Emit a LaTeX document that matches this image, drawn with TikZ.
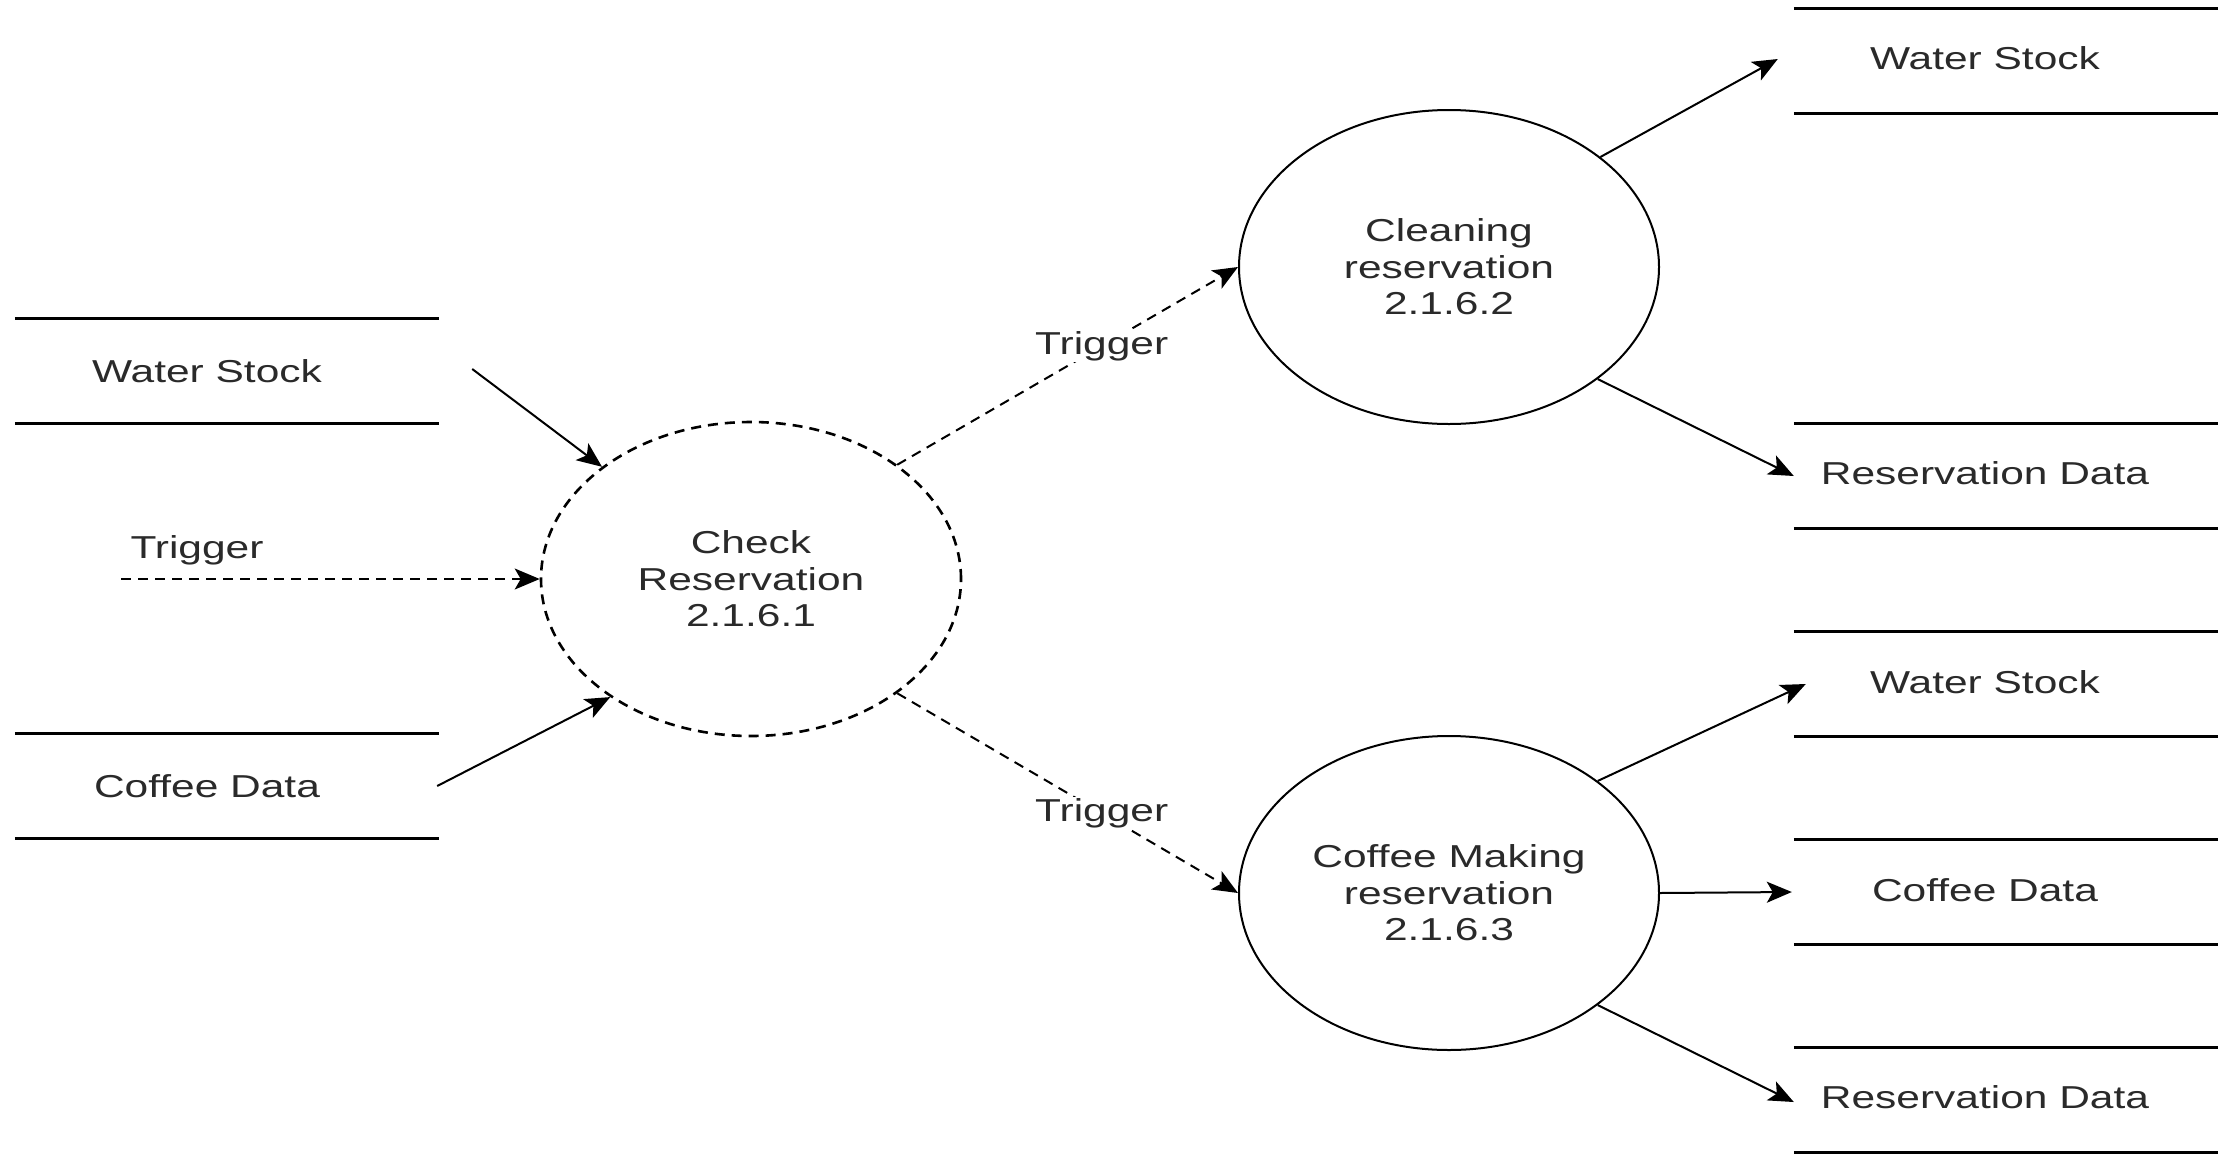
\documentclass[tikz,border=0pt]{standalone}
\usepackage{fontspec}
\usetikzlibrary{shapes.geometric,arrows.meta}
\newfontfamily\lblfont[FakeStretch=1.34]{Liberation Sans}
\definecolor{txt}{HTML}{2A2A2A}
\begin{document}
\begin{tikzpicture}[x=1pt,y=-1pt,
  lbl/.style={font=\lblfont\fontsize{31.7}{36.5}\selectfont, text=txt, inner sep=1pt},
  store/.style={rectangle, minimum width=424pt, minimum height=104pt, inner sep=0pt, draw=none,
    append after command={(\tikzlastnode.north west) edge[storeline] (\tikzlastnode.north east)
                          (\tikzlastnode.south west) edge[storeline] (\tikzlastnode.south east)}},
  storeline/.style={line width=3pt, -},
  proc/.style={ellipse, draw, line width=2pt, minimum width=420pt, minimum height=314pt, inner sep=0pt,
    font=\lblfont\fontsize{31.7}{36.5}\selectfont, align=center, text=txt},
  flow/.style={line width=2pt, -{Stealth[length=25pt,width=21pt,inset=6pt]}},
  dflow/.style={flow, dash pattern=on 10pt off 7pt},
  tlabel/.style={lbl, fill=white}
]
\useasboundingbox (0,0) rectangle (2236,1157);

% processes
\node[proc, dash pattern=on 10pt off 7pt, line width=2.6pt] (check) at (751,579) {Check\\Reservation\\2.1.6.1};
\node[proc] (clean) at (1449,267) {Cleaning\\reservation\\2.1.6.2};
\node[proc] (coffee) at (1449,893) {Coffee Making\\reservation\\2.1.6.3};

% left stores
\node[store] (wsL) at (227,371) {};
\node[lbl] (wsLt) at ([xshift=-20pt]wsL.center) {Water Stock};
\node[store] (cdL) at (227,786) {};
\node[lbl] (cdLt) at ([xshift=-20pt]cdL.center) {Coffee Data};

% right stores
\node[store] (ws1) at (2006,61) {};
\node[lbl] (ws1t) at ([xshift=-21pt,yshift=3pt]ws1.center) {Water Stock};
\node[store] (rd1) at (2006,476) {};
\node[lbl] (rd1t) at ([xshift=-21pt,yshift=3pt]rd1.center) {Reservation Data};
\node[store] (ws2) at (2006,684) {};
\node[lbl] (ws2t) at ([xshift=-21pt,yshift=2pt]ws2.center) {Water Stock};
\node[store] (cd2) at (2006,892) {};
\node[lbl] (cd2t) at ([xshift=-21pt,yshift=2pt]cd2.center) {Coffee Data};
\node[store] (rd2) at (2006,1100) {};
\node[lbl] (rd2t) at ([xshift=-21pt,yshift=3pt]rd2.center) {Reservation Data};

% trigger input
\node[lbl] (trgL) at (197,550) {Trigger};
\coordinate (trgStart) at (121,579);
\draw[dflow] (trgStart) -- (check.west);

% inputs to check
\draw[flow] ([xshift=33pt,yshift=2pt]wsL.east) -- (check);
\draw[flow] ([xshift=-2pt]cdL.east) -- (check.-140);

% check to subprocesses
\draw[dflow] (check.38) -- (clean.west) node[tlabel, pos=0.6] (trg1) {Trigger};
\draw[dflow] (check.-38) -- (coffee.west) node[tlabel, pos=0.6] (trg2) {Trigger};

% outputs
\draw[flow] (clean.36) -- ([xshift=-16pt,yshift=2pt]ws1.west);
\draw[flow] (clean.-37) -- (rd1.west);
\draw[flow] (coffee.37) -- ([xshift=12pt]ws2.west);
\draw[flow] (coffee.east) -- ([xshift=-2pt]cd2.west);
\draw[flow] (coffee.-37) -- ([yshift=-2pt]rd2.west);
\end{tikzpicture}
\end{document}
